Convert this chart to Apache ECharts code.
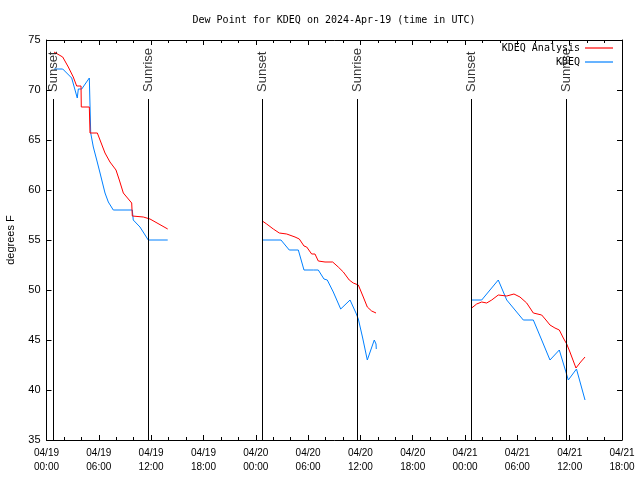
<!DOCTYPE html>
<html>
<head>
<meta charset="utf-8">
<script src="https://cdn.jsdelivr.net/npm/echarts@6/dist/echarts.min.js"></script>
<style>html,body{margin:0;padding:0;background:#fff}#c{width:640px;height:480px}</style>
</head>
<body>
<div id="c"></div>
<script>
// Time is hours since 2024-04-19 00:00 UTC
const xTickLabels = ['04/19\n00:00','04/19\n06:00','04/19\n12:00','04/19\n18:00',
  '04/20\n00:00','04/20\n06:00','04/20\n12:00','04/20\n18:00',
  '04/21\n00:00','04/21\n06:00','04/21\n12:00','04/21\n18:00'];
const yTicks = [35,40,45,50,55,60,65,70,75];

// KDEQ Analysis (red), three nightly segments: [hour, dew point F]
const analysisNight1 = [[0.86,73.8],[1.86,73.3],[2.50,72.3],[3.07,71.3],[3.46,70.4],[3.96,70.4],[3.99,68.3],[4.91,68.3],[4.99,65.7],[5.83,65.7],[6.71,63.7],[7.28,62.8],[7.97,62.0],[8.35,61.0],[8.81,59.7],[9.77,58.7],[9.84,57.4],[11.10,57.3],[11.87,57.1],[13.90,56.1]];
const analysisNight2 = [[24.75,56.9],[25.25,56.6],[26.01,56.1],[26.70,55.7],[27.55,55.6],[28.50,55.3],[28.99,55.1],[29.53,54.4],[29.84,54.3],[30.41,53.6],[30.79,53.6],[31.17,52.9],[31.94,52.8],[32.82,52.8],[33.46,52.3],[34.04,51.8],[34.72,51.0],[35.18,50.7],[35.76,50.5],[36.33,49.3],[36.79,48.3],[37.29,47.9],[37.79,47.7]];
const analysisNight3 = [[48.76,48.2],[49.33,48.6],[49.91,48.8],[50.48,48.7],[51.06,49.0],[51.81,49.5],[52.78,49.4],[53.61,49.6],[54.30,49.3],[55.07,48.7],[55.83,47.7],[56.79,47.5],[57.28,47.0],[57.74,46.5],[58.31,46.2],[58.81,46.0],[59.27,45.2],[59.66,44.6],[60.03,43.8],[60.72,42.2],[61.26,42.8],[61.76,43.3]];

// KDEQ observations (blue)
const obsNight1 = [[0.86,72.1],[1.86,72.1],[2.89,71.2],[3.53,69.2],[3.65,70.1],[4.04,70.1],[4.91,71.2],[5.07,65.7],[5.37,64.3],[5.76,63.0],[6.14,61.7],[6.71,59.7],[7.09,58.8],[7.66,58.0],[9.84,58.0],[9.95,57.0],[10.72,56.3],[11.67,55.0],[13.90,55.0]];
const obsNight2 = [[24.75,55.0],[26.89,55.0],[27.84,54.0],[28.88,54.0],[29.53,52.0],[30.60,52.0],[30.79,51.8],[31.17,52.0],[31.82,51.1],[32.20,51.0],[32.89,49.8],[33.74,48.1],[34.81,49.0],[35.49,47.7],[35.76,47.1],[36.26,45.2],[36.79,43.0],[37.59,45.0],[37.79,44.6],[37.82,44.1]];
const obsNight3 = [[48.76,49.0],[49.91,49.0],[51.81,51.0],[52.78,49.0],[54.68,47.0],[55.83,47.0],[56.79,45.0],[57.74,43.0],[58.81,44.0],[59.57,41.8],[59.84,41.0],[60.78,42.1],[61.76,39.0]];

// Sunset / sunrise events
const sunTimes = [0.78, 11.67, 24.75, 35.64, 48.76, 59.66];
const sunLabels = ['Sunset','Sunrise','Sunset','Sunrise','Sunset','Sunrise'];

function joinSegments(segs) {
  const out = [];
  segs.forEach((s, i) => {
    if (i > 0) out.push([(out[out.length-1][0] + s[0][0]) / 2, null]);
    s.forEach(p => out.push(p));
  });
  return out;
}

const sansFont = '"Liberation Sans", Arial, sans-serif';
const monoFont = '"DejaVu Sans Mono", "Liberation Mono", monospace';

const chart = echarts.init(document.getElementById('c'), null, {renderer: 'canvas'});
const xBase = {
  type: 'value', min: 0, max: 66, interval: 6,
  axisLine: {show: true, lineStyle: {color: '#000', width: 1}},
  axisTick: {show: true, inside: true, length: 5, lineStyle: {color: '#000'}},
  minorTick: {show: true, splitNumber: 3, length: 3, lineStyle: {color: '#000'}},
  splitLine: {show: false}
};
const yBase = {
  type: 'value', min: 35, max: 75, interval: 5,
  axisLine: {show: true, onZero: false, lineStyle: {color: '#000', width: 1}},
  axisTick: {show: true, inside: true, length: 5, lineStyle: {color: '#000'}},
  splitLine: {show: false}
};
const legendBase = {orient: 'vertical', align: 'right', icon: 'rect', itemWidth: 28, itemHeight: 1.2,
  padding: 0, textStyle: {fontFamily: monoFont, fontSize: 10, color: '#000'}};

chart.setOption({
  animation: false,
  backgroundColor: '#fff',
  title: {
    text: 'Dew Point for KDEQ on 2024-Apr-19 (time in UTC)',
    left: 334, top: 15, padding: 0, textAlign: 'center',
    textStyle: {fontFamily: monoFont, fontSize: 10, fontWeight: 'normal', color: '#000'}
  },
  legend: [
    Object.assign({}, legendBase, {data: ['KDEQ Analysis'], right: 27, top: 43}),
    Object.assign({}, legendBase, {data: ['KDEQ'], right: 27, top: 57})
  ],
  grid: {left: 46.5, right: 18, top: 40, bottom: 40, containLabel: false, outerBoundsMode: 'none'},
  xAxis: [
    Object.assign({}, xBase, {position: 'bottom',
      axisLabel: {show: true, margin: 6, lineHeight: 14, fontFamily: sansFont, fontSize: 10, color: '#000',
        formatter: v => xTickLabels[Math.round(v / 6)] || ''}}),
    Object.assign({}, xBase, {position: 'top', axisLabel: {show: false}})
  ],
  yAxis: [
    Object.assign({}, yBase, {position: 'left', name: 'degrees F', nameLocation: 'middle', nameGap: 30,
      nameRotate: 90, nameTextStyle: {fontFamily: sansFont, fontSize: 11, color: '#000'},
      axisLabel: {show: true, margin: 6, fontFamily: sansFont, fontSize: 11, color: '#000',
        formatter: v => yTicks.indexOf(v) >= 0 ? String(v) : ''}}),
    Object.assign({}, yBase, {position: 'right', axisLabel: {show: false}})
  ],
  series: [
    {name: 'KDEQ Analysis', type: 'line', data: joinSegments([analysisNight1, analysisNight2, analysisNight3]),
     showSymbol: false, symbol: 'none', connectNulls: false, color: '#ff0000',
     lineStyle: {color: '#ff0000', width: 1}, z: 3},
    {name: 'KDEQ', type: 'line', data: joinSegments([obsNight1, obsNight2, obsNight3]),
     showSymbol: false, symbol: 'none', connectNulls: false, color: '#0080ff',
     lineStyle: {color: '#0080ff', width: 1}, z: 2},
    {name: 'sun', type: 'scatter', symbolSize: 0, z: 5, silent: true,
     data: sunTimes.map((t, i) => ({value: [t, 69.8], label: {formatter: sunLabels[i]}})),
     label: {show: true, position: [0, 0], rotate: 90, align: 'left', verticalAlign: 'middle',
       fontFamily: sansFont, fontSize: 13, color: '#000'},
     markLine: {silent: true, symbol: ['none', 'none'], label: {show: false},
       lineStyle: {color: '#000', width: 1, type: 'solid'},
       data: sunTimes.map(t => [{coord: [t, 35]}, {coord: [t, 69.1]}])}}
  ]
});
</script>
</body>
</html>
